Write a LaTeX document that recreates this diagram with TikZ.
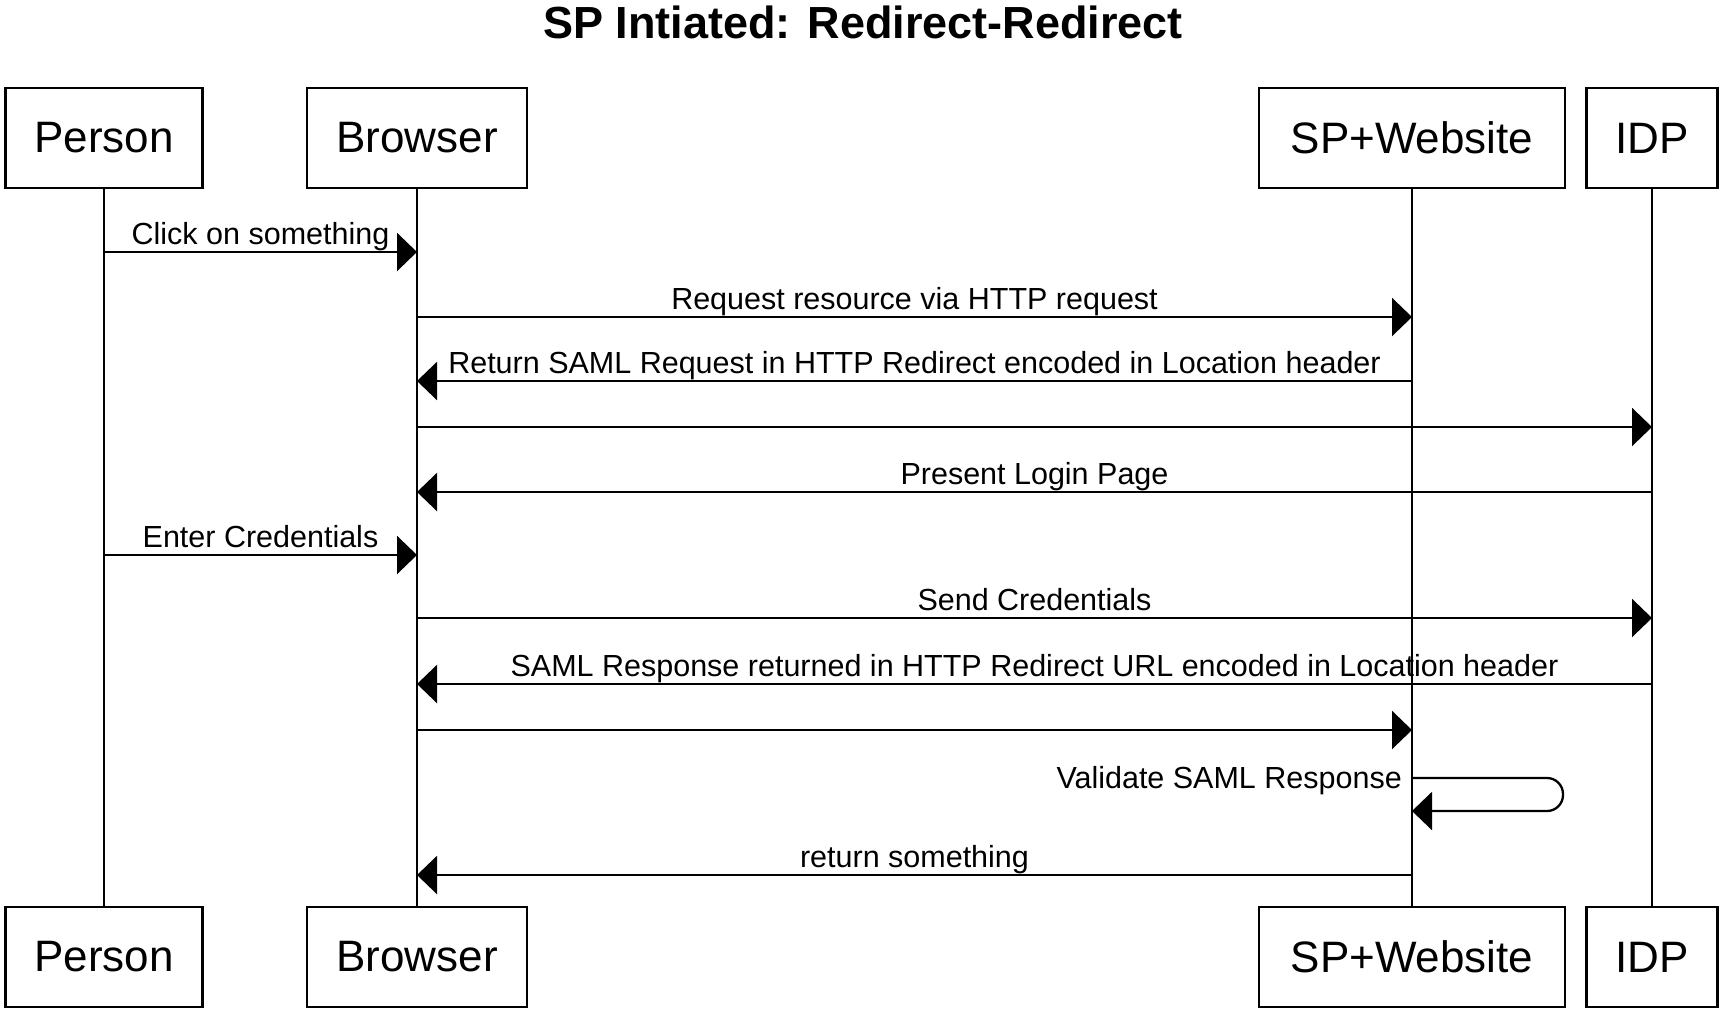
\documentclass[tikz,border=0pt]{standalone}
\usepackage{fontspec}
\setmainfont{Liberation Sans}
\usetikzlibrary{arrows.meta}
\tikzset{
  actor/.style={draw, line width=2.6pt, minimum height=100pt, inner sep=0pt, font=\fontsize{44}{50}\selectfont},
  life/.style={line width=2.3pt},
  msg/.style={line width=2.3pt, -{Triangle[length=20pt,width=38pt]}},
  lbl/.style={midway, anchor=base, yshift=8pt, inner sep=0pt, font=\fontsize{30.5}{36}\selectfont},
}
\begin{document}
\begin{tikzpicture}[x=1pt,y=-1pt]
\useasboundingbox (0,0) rectangle (1724,1013);
\node[font=\fontsize{45}{52}\selectfont\bfseries] (title) at (863,22) {SP Intiated: Redirect-Redirect};
% top actors
\node[actor, minimum width=197pt] (p1) at (104,138) {Person};
\node[actor, minimum width=220pt] (b1) at (417,138) {Browser};
\node[actor, minimum width=306pt] (s1) at (1412,138) {SP+Website};
\node[actor, minimum width=131pt] (i1) at (1652,138) {IDP};
% bottom actors
\node[actor, minimum width=197pt] (p2) at (104,957) {Person};
\node[actor, minimum width=220pt] (b2) at (417,957) {Browser};
\node[actor, minimum width=306pt] (s2) at (1412,957) {SP+Website};
\node[actor, minimum width=131pt] (i2) at (1652,957) {IDP};
% lifelines
\draw[life] (p1) -- (p2);
\draw[life] (b1) -- (b2);
\draw[life] (s1) -- (s2);
\draw[life] (i1) -- (i2);
% message rows
\coordinate (y1) at (0,252);
\coordinate (y2) at (0,317);
\coordinate (y3) at (0,381);
\coordinate (y4) at (0,427);
\coordinate (y5) at (0,492);
\coordinate (y6) at (0,555);
\coordinate (y7) at (0,618);
\coordinate (y8) at (0,684);
\coordinate (y9) at (0,730);
\coordinate (y10) at (0,778);
\coordinate (y10b) at (0,811);
\coordinate (y11) at (0,875);
\coordinate (loopx) at (1563,0);
\draw[msg] (p1 |- y1) -- (b1 |- y1) node[lbl] {Click on something};
\draw[msg] (b1 |- y2) -- (s1 |- y2) node[lbl] {Request resource via HTTP request};
\draw[msg] (s1 |- y3) -- (b1 |- y3) node[lbl] {Return SAML Request in HTTP Redirect encoded in Location header};
\draw[msg] (b1 |- y4) -- (i1 |- y4);
\draw[msg] (i1 |- y5) -- (b1 |- y5) node[lbl] {Present Login Page};
\draw[msg] (p1 |- y6) -- (b1 |- y6) node[lbl] {Enter Credentials};
\draw[msg] (b1 |- y7) -- (i1 |- y7) node[lbl] {Send Credentials};
\draw[msg] (i1 |- y8) -- (b1 |- y8) node[lbl] {SAML Response returned in HTTP Redirect URL encoded in Location header};
\draw[msg] (b1 |- y9) -- (s1 |- y9);
\draw[msg, rounded corners=16pt] (s1 |- y10) -- (loopx |- y10) -- (loopx |- y10b) -- (s1 |- y10b);
\node[anchor=base east, inner sep=0pt, font=\fontsize{30.5}{36}\selectfont] (vlbl) at (1402,788) {Validate SAML Response};
\draw[msg] (s1 |- y11) -- (b1 |- y11) node[lbl] {return something};
\end{tikzpicture}
\end{document}
